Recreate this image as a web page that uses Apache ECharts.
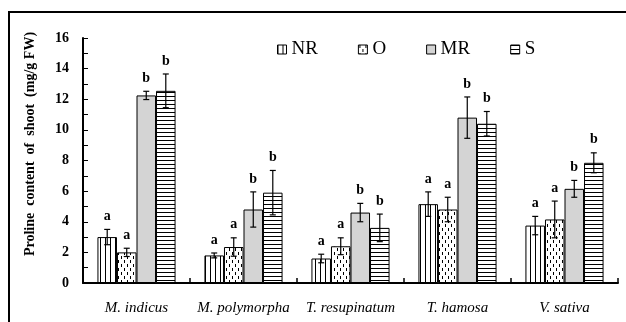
<!DOCTYPE html>
<html>
<head>
<meta charset="utf-8">
<script src="https://cdn.jsdelivr.net/npm/echarts@6/dist/echarts.min.js"></script>
<style>
  html, body { margin: 0; padding: 0; background: #fff; }
  #chart { width: 626px; height: 322px; }
</style>
</head>
<body>
<div id="chart"></div>
<script>
// Species on the x axis
const species = ['M. indicus', 'M. polymorpha', 'T. resupinatum', 'T. hamosa', 'V. sativa'];
// Treatments (one bar series each)
const treatments = ['NR', 'O', 'MR', 'S'];

// Mean proline content (mg/g FW), standard errors and significance letters
const nrMean   = [3.0, 1.8, 1.6, 5.15, 3.75];
const nrErr    = [0.5, 0.16, 0.28, 0.8, 0.6];
const nrLetter = ['a', 'a', 'a', 'a', 'a'];

const oMean    = [2.0, 2.35, 2.4, 4.8, 4.15];
const oErr     = [0.27, 0.6, 0.55, 0.8, 1.2];
const oLetter  = ['a', 'a', 'a', 'a', 'a'];

const mrMean   = [12.25, 4.8, 4.6, 10.8, 6.15];
const mrErr    = [0.27, 1.15, 0.6, 1.35, 0.55];
const mrLetter = ['b', 'b', 'b', 'b', 'b'];

const sMean    = [12.55, 5.9, 3.6, 10.4, 7.85];
const sErr     = [1.1, 1.45, 0.9, 0.8, 0.65];
const sLetter  = ['b', 'b', 'b', 'b', 'b'];

const yTicks = [0, 2, 4, 6, 8, 10, 12, 14, 16];

const means   = [nrMean, oMean, mrMean, sMean];
const errs    = [nrErr, oErr, mrErr, sErr];
const letters = [nrLetter, oLetter, mrLetter, sLetter];

const SERIF = '"Liberation Serif", "Times New Roman", serif';
const CAT_GAP = 0.27;

// Fill patterns for the bars
function makePattern(w, h, draw) {
  const c = document.createElement('canvas');
  c.width = w; c.height = h;
  const ctx = c.getContext('2d');
  ctx.fillStyle = '#fff';
  ctx.fillRect(0, 0, w, h);
  ctx.fillStyle = '#000';
  draw(ctx);
  return { image: c, repeat: 'repeat' };
}
const fills = [
  // vertical lines
  makePattern(5, 5, ctx => { ctx.fillRect(0, 0, 1, 5); }),
  // staggered short dashes
  makePattern(6, 8, ctx => { ctx.fillRect(1, 0, 1, 3); ctx.fillRect(4, 4, 1, 3); }),
  // plain light grey
  '#d4d4d4',
  // horizontal lines
  makePattern(4, 4, ctx => { ctx.fillRect(0, 0, 4, 1); })
];

const barSeries = treatments.map((name, k) => ({
  name: name,
  type: 'bar',
  data: means[k],
  barGap: '0%',
  barCategoryGap: (CAT_GAP * 100) + '%',
  itemStyle: { color: fills[k], borderColor: '#000', borderWidth: 1 },
  emphasis: { disabled: true },
  z: 2
}));

// Error bars and letters, placed over each bar
const errData = [];
for (let k = 0; k < treatments.length; k++) {
  for (let i = 0; i < species.length; i++) {
    errData.push([i, means[k][i] + errs[k][i], k, means[k][i], errs[k][i]]);
  }
}

const errSeries = {
  type: 'custom',
  data: errData,
  encode: { x: 0, y: 1 },
  z: 5,
  silent: true,
  renderItem: function (params, api) {
    const cat = api.value(0);
    const k = api.value(2);
    const mean = api.value(3);
    const err = api.value(4);
    const band = api.size([1, 0])[0];
    const groupW = band * (1 - CAT_GAP);
    const bw = groupW / treatments.length;
    const cx = api.coord([cat, 0])[0] - groupW / 2 + (k + 0.5) * bw;
    const yTop = api.coord([cat, mean + err])[1];
    const yBot = api.coord([cat, mean - err])[1];
    const cap = 3;
    const st = { stroke: '#000', lineWidth: 1.2 };
    return {
      type: 'group',
      children: [
        { type: 'line', shape: { x1: cx, y1: yTop, x2: cx, y2: yBot }, style: st },
        { type: 'line', shape: { x1: cx - cap, y1: yTop, x2: cx + cap, y2: yTop }, style: st },
        { type: 'line', shape: { x1: cx - cap, y1: yBot, x2: cx + cap, y2: yBot }, style: st },
        {
          type: 'text',
          style: {
            x: cx, y: yTop - 6,
            text: letters[k][cat],
            fill: '#000',
            font: 'bold 14px ' + SERIF,
            textAlign: 'center',
            textVerticalAlign: 'bottom'
          }
        }
      ]
    };
  }
};

const chart = echarts.init(document.getElementById('chart'), null, { renderer: 'canvas' });

chart.setOption({
  animation: false,
  backgroundColor: '#fff',
  grid: { left: 83, right: 8, top: 38, bottom: 39, containLabel: false },
  legend: {
    data: treatments,
    left: 272,
    top: 35,
    icon: 'rect',
    itemWidth: 9,
    itemHeight: 9,
    itemGap: 40,
    itemStyle: { borderColor: '#000', borderWidth: 1 },
    textStyle: { fontFamily: SERIF, fontSize: 19, color: '#000' },
    selectedMode: false
  },
  xAxis: {
    type: 'category',
    data: species,
    boundaryGap: true,
    axisLine: { show: true, lineStyle: { color: '#000', width: 2 } },
    axisTick: { show: true, inside: true, length: 5, lineStyle: { color: '#000', width: 1.5 } },
    axisLabel: {
      interval: 0,
      hideOverlap: false,
      color: '#000',
      fontFamily: SERIF,
      fontStyle: 'italic',
      fontSize: 15,
      margin: 18
    },
    splitLine: { show: false }
  },
  yAxis: {
    type: 'value',
    min: yTicks[0],
    max: yTicks[yTicks.length - 1],
    interval: yTicks[1] - yTicks[0],
    axisLine: { show: true, lineStyle: { color: '#000', width: 2 } },
    axisTick: { show: true, inside: true, length: 5, lineStyle: { color: '#000', width: 1 } },
    minorTick: { show: true, splitNumber: 2, length: 5, lineStyle: { color: '#000', width: 1 } },
    axisLabel: {
      color: '#000',
      fontFamily: SERIF,
      fontWeight: 'bold',
      fontSize: 14,
      margin: 14
    },
    splitLine: { show: false },
    minorSplitLine: { show: false }
  },
  graphic: [
    {
      type: 'rect',
      shape: { x: 9, y: 12, width: 700, height: 400 },
      style: { fill: 'none', stroke: '#000', lineWidth: 2 },
      silent: true
    },
    {
      type: 'text',
      x: 30,
      y: 144,
      rotation: Math.PI / 2,
      style: {
        text: 'Proline  content  of  shoot  (mg/g FW)',
        font: 'bold 14px ' + SERIF,
        fill: '#000',
        textAlign: 'center',
        textVerticalAlign: 'middle'
      },
      silent: true
    }
  ],
  series: barSeries.concat([errSeries])
});
</script>
</body>
</html>
